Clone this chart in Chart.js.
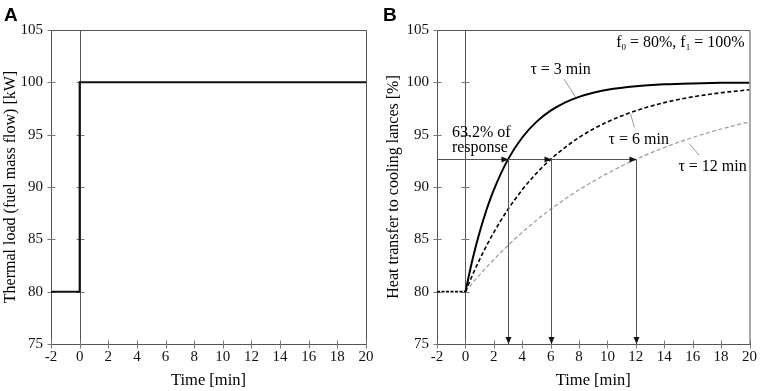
<!DOCTYPE html>
<html><head><meta charset="utf-8">
<script src="https://cdn.jsdelivr.net/npm/chart.js@4"></script>
<style>
html,body{margin:0;padding:0;background:#fff;}
#wrap{position:relative;width:761px;height:391px;overflow:hidden;background:#fff;}
canvas{position:absolute;top:0;}
.lbl{position:absolute;font:bold 19px "Liberation Sans",Arial,sans-serif;color:#000;line-height:19px;}
</style></head><body>
<div id="wrap">
<canvas id="ca" width="380" height="391" style="left:0px"></canvas>
<canvas id="cb" width="381" height="391" style="left:380px"></canvas>
<div class="lbl" style="left:4px;top:5px">A</div>
<div class="lbl" style="left:383px;top:5px">B</div>
</div>
<script>
// ---- data ----
const timeTicks = [-2, 0, 2, 4, 6, 8, 10, 12, 14, 16, 18, 20];
const valueTicks = [75, 80, 85, 90, 95, 100, 105];

// Panel A: step in thermal load
const loadTime = [-2, 0, 0, 20];
const loadValue = [80, 80, 100, 100];

// Panel B: heat transfer responses
const baseTime = [-2, 0];
const baseValue = [80, 80];
const respTime = [0, 0.5, 1, 1.5, 2, 3, 4, 5, 6, 7, 8, 9, 10, 12, 14, 16, 18, 20];
const tau3 = [80, 83.07, 85.67, 87.87, 89.73, 92.64, 94.73, 96.22, 97.29, 98.06, 98.61, 99.0, 99.29, 99.63, 99.81, 99.9, 99.95, 99.97];
const tau6 = [80, 81.6, 83.07, 84.42, 85.67, 87.87, 89.73, 91.31, 92.64, 93.77, 94.73, 95.54, 96.22, 97.29, 98.06, 98.61, 99.0, 99.29];
const tau12 = [80, 80.82, 81.6, 82.35, 83.07, 84.42, 85.67, 86.82, 87.87, 88.84, 89.73, 90.55, 91.31, 92.64, 93.77, 94.73, 95.54, 96.22];

// 63.2 % of response markers
const responseTimes = [3, 6, 12];
const responseLevel = 92.64;

// ---- helpers ----
const SERIF = '"Liberation Serif","Times New Roman",serif';
function pts(xs, ys){ return xs.map((x,i)=>({x:x, y:ys[i]})); }

const framePlugin = {
  id: 'frame',
  beforeDatasetsDraw(chart){
    const {ctx, chartArea:a, scales:{x, y}} = chart;
    ctx.save();
    ctx.strokeStyle = '#555';
    ctx.lineWidth = 1;
    const L = a.left + 0.5, R = a.right + 0.5, T = a.top + 0.5, B = a.bottom + 0.5;
    ctx.beginPath();
    ctx.moveTo(L, T); ctx.lineTo(R, T); ctx.lineTo(R, B); ctx.lineTo(L, B); ctx.closePath();
    ctx.stroke();
    // zero line
    const x0 = Math.round(x.getPixelForValue(0)) + 0.5;
    ctx.strokeStyle = '#555';
    ctx.beginPath(); ctx.moveTo(x0, T); ctx.lineTo(x0, B); ctx.stroke();
    // ticks
    ctx.strokeStyle = '#777';
    ctx.beginPath();
    valueTicks.forEach(v => {
      if (v === y.min || v === y.max) return;
      const py = Math.round(y.getPixelForValue(v)) + 0.5;
      ctx.moveTo(L - 4, py); ctx.lineTo(L + 4, py);
      ctx.moveTo(x0 - 4, py); ctx.lineTo(x0 + 4, py);
    });
    valueTicks.forEach(v => {
      if (v !== y.min && v !== y.max) return;
      const py = Math.round(y.getPixelForValue(v)) + 0.5;
      ctx.moveTo(L - 4, py); ctx.lineTo(L, py);
    });
    timeTicks.forEach(t => {
      const px = Math.round(x.getPixelForValue(t)) + 0.5;
      ctx.moveTo(px, B - 4); ctx.lineTo(px, B + 4);
    });
    ctx.stroke();
    ctx.restore();
  }
};

function scalesFor(yTitle, yWidth, yTitlePad){
  return {
    x: {
      type: 'linear', min: -2, max: 20,
      afterBuildTicks(s){ s.ticks = timeTicks.map(v => ({value: v})); },
      afterFit(s){ s.height = 47; },
      grid: {display: false, drawTicks: false},
      border: {display: false},
      ticks: {padding: 4, color: '#111', font: {family: SERIF, size: 15}, maxRotation: 0, autoSkip: false},
      title: {display: true, text: 'Time [min]', color: '#000', font: {family: SERIF, size: 16.5}, padding: {top: 0, bottom: 0}}
    },
    y: {
      type: 'linear', min: 75, max: 105,
      afterBuildTicks(s){ s.ticks = valueTicks.map(v => ({value: v})); },
      afterFit(s){ s.width = yWidth; },
      grid: {display: false, drawTicks: false},
      border: {display: false},
      ticks: {padding: 8, color: '#111', font: {family: SERIF, size: 15}, autoSkip: false},
      title: {display: true, text: yTitle, color: '#000', font: {family: SERIF, size: 16}, padding: {top: yTitlePad, bottom: 0}}
    }
  };
}

// ---- Panel A ----
new Chart(document.getElementById('ca'), {
  type: 'line',
  data: {
    datasets: [{
      data: pts(loadTime, loadValue),
      borderColor: '#111', borderWidth: 2, pointRadius: 0, tension: 0, fill: false
    }]
  },
  options: {
    responsive: false, animation: false, devicePixelRatio: 1,
    layout: {padding: {left: 0, right: 14, top: 30, bottom: 0}},
    plugins: {legend: {display: false}, tooltip: {enabled: false}},
    scales: scalesFor('Thermal load (fuel mass flow) [kW]', 51, 1.5)
  },
  plugins: [framePlugin]
});

// ---- Panel B annotations ----
const notes = {
  tau: [
    {text: 'τ = 3 min', at: [6.7, 101.2], lead: [[6.95, 100.3], [7.75, 98.6]]},
    {text: 'τ = 6 min', at: [12.2, 94.5], lead: [[11.9, 95.7], [11.62, 97.0]]},
    {text: 'τ = 12 min', at: [17.4, 91.9], lead: [[16.45, 93.05], [15.75, 94.15]]}
  ],
  response: {lines: ['63.2% of', 'response'], at: [-0.95, 93.8]}
};

const annotPlugin = {
  id: 'annot',
  afterDatasetsDraw(chart){
    const {ctx, chartArea:a, scales:{x, y}} = chart;
    ctx.save();
    const lvl = Math.round(y.getPixelForValue(responseLevel)) + 0.5;
    const bottom = a.bottom;
    const xEnd = x.getPixelForValue(Math.max(...responseTimes));
    // horizontal line
    ctx.strokeStyle = '#555'; ctx.lineWidth = 1;
    ctx.beginPath();
    ctx.moveTo(a.left, lvl); ctx.lineTo(xEnd, lvl);
    responseTimes.forEach(t => {
      const px = Math.round(x.getPixelForValue(t)) + 0.5;
      ctx.moveTo(px, lvl); ctx.lineTo(px, bottom);
    });
    ctx.stroke();
    // arrowheads
    ctx.fillStyle = '#111';
    responseTimes.forEach(t => {
      const px = Math.round(x.getPixelForValue(t)) + 0.5;
      ctx.beginPath();
      ctx.moveTo(px, lvl); ctx.lineTo(px - 7, lvl - 3); ctx.lineTo(px - 7, lvl + 3); ctx.closePath(); ctx.fill();
      ctx.beginPath();
      ctx.moveTo(px, bottom); ctx.lineTo(px - 3, bottom - 7); ctx.lineTo(px + 3, bottom - 7); ctx.closePath(); ctx.fill();
    });
    // tau labels with leader lines
    ctx.strokeStyle = '#999'; ctx.lineWidth = 1;
    ctx.font = '16px ' + SERIF;
    ctx.fillStyle = '#000';
    ctx.textAlign = 'center'; ctx.textBaseline = 'middle';
    notes.tau.forEach(n => {
      ctx.beginPath();
      ctx.moveTo(x.getPixelForValue(n.lead[0][0]), y.getPixelForValue(n.lead[0][1]));
      ctx.lineTo(x.getPixelForValue(n.lead[1][0]), y.getPixelForValue(n.lead[1][1]));
      ctx.stroke();
      ctx.fillText(n.text, x.getPixelForValue(n.at[0]), y.getPixelForValue(n.at[1]));
    });
    // response text
    ctx.textAlign = 'left';
    const rx = x.getPixelForValue(notes.response.at[0]);
    const ry = y.getPixelForValue(notes.response.at[1]);
    ctx.fillText(notes.response.lines[0], rx, ry - 14);
    ctx.fillText(notes.response.lines[1], rx, ry + 1);
    // f0 / f1 text, right aligned in the corner
    const parts = [['f', 16, 0], ['0', 9, 3], [' = 80%, f', 16, 0], ['1', 9, 3], [' = 100%', 16, 0]];
    ctx.textBaseline = 'alphabetic';
    let w = 0;
    parts.forEach(p => { ctx.font = p[1] + 'px ' + SERIF; w += ctx.measureText(p[0]).width; });
    let cx = a.right - 5 - w;
    const by = a.top + 17;
    parts.forEach(p => {
      ctx.font = p[1] + 'px ' + SERIF;
      ctx.fillText(p[0], cx, by + p[2]);
      cx += ctx.measureText(p[0]).width;
    });
    ctx.restore();
  }
};

// ---- Panel B ----
new Chart(document.getElementById('cb'), {
  type: 'line',
  data: {
    datasets: [
      {label: 'τ = 3 min', data: pts(respTime, tau3), borderColor: '#000', borderWidth: 2,
       pointRadius: 0, cubicInterpolationMode: 'monotone', fill: false},
      {label: 'τ = 6 min', data: pts(respTime, tau6), borderColor: '#000', borderWidth: 1.6, borderDash: [4, 2.5],
       pointRadius: 0, cubicInterpolationMode: 'monotone', fill: false},
      {label: 'τ = 12 min', data: pts(respTime, tau12), borderColor: '#9a9a9a', borderWidth: 1.2, borderDash: [4, 2.5],
       pointRadius: 0, cubicInterpolationMode: 'monotone', fill: false},
      {label: 'base', data: pts(baseTime, baseValue), borderColor: '#000', borderWidth: 1.6, borderDash: [3, 1.5],
       pointRadius: 0, tension: 0, fill: false}
    ]
  },
  options: {
    responsive: false, animation: false, devicePixelRatio: 1,
    layout: {padding: {left: 0, right: 9, top: 30, bottom: 0}},
    plugins: {legend: {display: false}, tooltip: {enabled: false}},
    scales: scalesFor('Heat transfer to cooling lances [%]', 57, 4.5)
  },
  plugins: [framePlugin, annotPlugin]
});
</script>
</body></html>
